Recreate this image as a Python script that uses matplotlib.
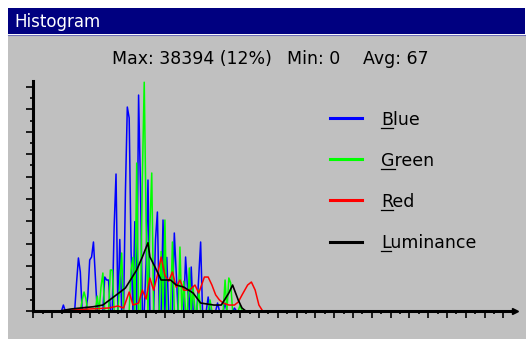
import numpy as np
import matplotlib.pyplot as plt
from matplotlib.patches import Rectangle
from matplotlib.lines import Line2D
from matplotlib.ticker import MultipleLocator

W, H = 526, 339

# comb-like channels: only non-empty levels are listed
blue_levels = [16, 23, 24, 25, 29, 30, 31, 32, 33, 38, 39, 40, 43, 44, 46, 49,
               50, 51, 52, 54, 56, 57, 60, 61, 65, 66, 69, 71, 75, 76, 81, 82,
               84, 88, 89, 93, 98, 102, 107]
blue_counts = [1000, 4700, 8900, 6550, 2500, 8560, 9060, 11580, 5700, 5700,
               5200, 5200, 14100, 22990, 12000, 20000, 34230, 32390, 10000,
               15000, 36240, 20970, 8000, 21980, 12000, 16610, 15270, 9000,
               13090, 6500, 9060, 4000, 7380, 5700, 11580, 2350, 1340, 1340, 500]

green_levels = [26, 27, 28, 34, 36, 37, 41, 42, 46, 47, 52, 53, 55, 58, 59, 60,
                62, 63, 68, 70, 74, 78, 80, 83, 85, 88, 94, 102, 104, 105, 110]
green_counts = [1850, 3190, 2000, 2500, 4000, 6380, 6880, 6880, 5000, 9730,
                6880, 9000, 24830, 22320, 38394, 15000, 14000, 23160, 10000,
                15270, 11580, 10740, 5000, 7220, 4000, 3520, 1850, 5200, 5540,
                4700, 1000]

red_levels = [14, 20, 30, 40, 45, 48, 51, 53, 56, 58, 60, 62, 64, 66, 68, 70,
              72, 74, 76, 78, 80, 83, 86, 88, 91, 93, 95, 97, 99, 101, 104, 107,
              109, 111, 114, 116, 118, 120, 122]
red_counts = [0, 170, 340, 500, 840, 500, 3190, 1000, 1340, 3520, 2000, 5530,
              3500, 6000, 9060, 6000, 5000, 6540, 4000, 5200, 3500, 3500, 4360,
              3020, 5700, 5700, 4360, 2700, 1850, 1340, 1000, 1000, 1500, 2680,
              4360, 4860, 3520, 1000, 0]

lum_levels = [14, 20, 25, 32, 37, 42, 49, 55, 58, 61, 62, 65, 68, 73, 76, 80,
              85, 89, 96, 100, 104, 106, 109, 111, 113]
lum_counts = [0, 335, 500, 720, 1000, 2180, 3860, 6880, 9060, 11450, 9100,
              7210, 5200, 5200, 4360, 4020, 3020, 1340, 1000, 1000, 3020, 4360,
              1840, 500, 0]

legend_names = ["Blue", "Green", "Red", "Luminance"]
legend_colors = ["#0000ff", "#00ff00", "#ff0000", "#000000"]

stats = ["Max: 38394 (12%)", "Min: 0", "Avg: 67"]


def fx(px):
    return px / W


def fy(py):
    return 1 - py / H


levels = np.arange(256)
blue = np.zeros(256)
blue[blue_levels] = blue_counts
green = np.zeros(256)
green[green_levels] = green_counts

fig = plt.figure(figsize=(W / 100, H / 100), dpi=100)
fig.patch.set_facecolor("white")

# window frame: grey client area and navy caption bar
fig.add_artist(Rectangle((fx(8), 0), fx(518), fy(35), transform=fig.transFigure,
                         facecolor="#c0c0c0", edgecolor="none", zorder=0))
fig.add_artist(Rectangle((fx(8), fy(34)), fx(517), 26 / H, transform=fig.transFigure,
                         facecolor="#000080", edgecolor="none", zorder=0))
fig.add_artist(Line2D([fx(8), fx(525)], [fy(34.5), fy(34.5)], color="#7070b8", lw=0.8))
fig.text(fx(14), fy(27), "Histogram", color="white", fontsize=12, va="baseline")

for label, x in zip(stats, [112, 287, 363]):
    fig.text(fx(x), fy(64), label, fontsize=12.5, va="baseline")

ax = fig.add_axes([fx(33.3), fy(311), fx(514.6 - 33.3), 230 / H])
ax.set_facecolor("none")
ax.plot(levels, blue, color="#0000ff", lw=1.1, clip_on=False)
ax.plot(levels, green, color="#00ff00", lw=1.1, clip_on=False)
ax.plot(red_levels, red_counts, color="#ff0000", lw=1.1)
ax.plot(lum_levels, lum_counts, color="black", lw=1.2)

ax.set_xlim(0, 256)
ax.set_ylim(0, 38600)
for side in ["top", "right"]:
    ax.spines[side].set_visible(False)
for side in ["left", "bottom"]:
    ax.spines[side].set_linewidth(2.2)
    ax.spines[side].set_color("black")
ax.xaxis.set_major_locator(MultipleLocator(10))
ax.xaxis.set_minor_locator(MultipleLocator(5))
ax.yaxis.set_major_locator(MultipleLocator(3760))
ax.yaxis.set_minor_locator(MultipleLocator(1880))
ax.tick_params(which="major", direction="out", length=5, width=1.2, color="black")
ax.tick_params(which="minor", direction="out", length=2.5, width=1.2, color="black")
ax.set_xticklabels([])
ax.set_yticklabels([])
ax.plot([1], [0], marker=">", color="black", markersize=5,
        transform=ax.transAxes, clip_on=False)

# legend drawn by hand, first letter underlined as a mnemonic
renderer = fig.canvas.get_renderer()
for i, (name, color) in enumerate(zip(legend_names, legend_colors)):
    ly = 118.3 + i * 41.1
    fig.add_artist(Line2D([fx(330), fx(362)], [fy(ly), fy(ly)], color=color, lw=2.2))
    fig.text(fx(381), fy(ly + 6.7), name, fontsize=12.5, va="baseline")
    first = fig.text(fx(381), fy(ly + 6.7), name[0], fontsize=12.5, va="baseline", alpha=0)
    bb = first.get_window_extent(renderer)
    fig.add_artist(Line2D([bb.x0 / W, bb.x1 / W], [fy(ly + 9.5), fy(ly + 9.5)],
                          color="black", lw=0.9))

fig.savefig("out.png", dpi=100)
